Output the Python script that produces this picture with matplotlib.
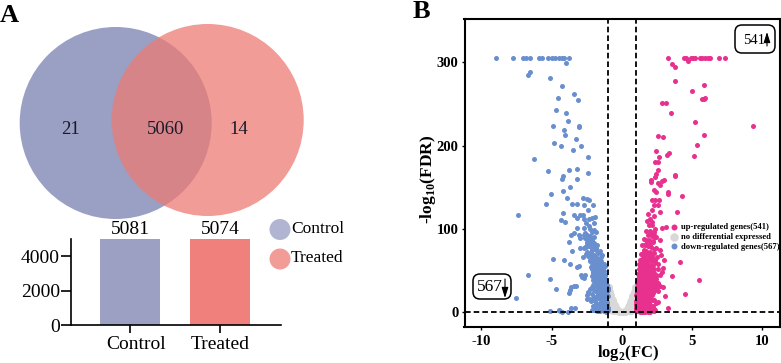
import matplotlib
matplotlib.use("Agg")
import matplotlib.pyplot as plt
from matplotlib.patches import Circle, FancyBboxPatch
from matplotlib.transforms import ScaledTranslation

plt.rcParams['font.family'] = ['Liberation Serif', 'DejaVu Serif']
plt.rcParams['mathtext.fontset'] = 'custom'
plt.rcParams['mathtext.rm'] = 'Liberation Serif:bold'
plt.rcParams['mathtext.bf'] = 'Liberation Serif:bold'

W, H = 781, 363

venn_labels = ["21", "5060", "14"]
groups = ["Control", "Treated"]
group_totals = [5081, 5074]
bar_ticks = [0, 2000, 4000]
volcano_xticks = [-10, -5, 0, 5, 10]
volcano_yticks = [0, 100, 200, 300]
legend_labels = ["up-regulated genes(541)", "no differential expressed", "down-regulated genes(567)"]

down_x = [
    -8.93, -7.76, -7.05, -6.81, -6.53, -5.93, -5.70, -5.29, -4.98, -4.75, -4.51, -4.27, -4.11, -3.73,
    -4.01, -6.69, -6.53, -5.15, -4.27, -3.42, -4.53, -3.13, -4.70, -3.99, -3.84, -4.91, -3.06, -3.06,
    -4.13, -4.03, -3.27, -4.82, -4.34, -2.90, -3.49, -2.44, -6.22, -5.27, -3.77, -3.20, -2.42, -4.20,
    -3.20, -4.27, -4.20, -3.68, -5.01, -5.39, -3.90, -3.54, -3.16, -2.80, -2.49, -2.37, -2.73, -2.42,
    -2.06, -7.38, -4.20, -3.44, -2.97, -2.80, -3.20, -4.30, -4.06, -2.68, -2.37, -2.13, -1.90, -2.56,
    -1.95, -2.73, -3.20, -2.30, -2.00, -1.83, -3.39, -3.63, -3.08, -2.73, -2.49, -2.25, -2.00, -2.97,
    -2.60, -2.40, -2.10, -3.75, -2.25, -2.00, -1.78, -2.49, -2.73, -2.97, -3.56, -2.62, -2.35, -2.10,
    -1.85, -1.62, -2.55, -2.22, -1.95, -1.70, -1.48, -2.38, -2.10, -1.85, -1.58, -2.75, -2.28, -2.02,
    -1.75, -1.52, -1.35, -2.15, -1.92, -1.66, -1.42, -5.10, -4.50, -4.40, -4.27, -3.87, -3.63, -3.32,
    -5.10, -4.72, -6.69, -7.52, -4.91, -4.15, -3.68, -3.20, -3.08, -3.75, -3.70, -3.63, -3.44, -3.27,
    -2.85, -2.73, -2.60, -2.90, -2.49, -2.20, -2.10, -2.00, -1.88, -1.75, -1.62, -1.50, -1.38, -1.25,
    -2.05, -1.92, -1.80, -1.68, -1.55, -1.42, -1.30, -1.18, -2.12, -1.98, -1.85, -1.72, -1.60, -1.47,
    -1.35, -1.22, -1.10, -2.08, -1.95, -1.82, -1.70, -1.57, -1.44, -1.32, -1.20, -1.07, -2.02, -1.88,
    -1.76, -1.64, -1.51, -1.39, -1.26, -1.14, -1.02, -2.25, -1.90, -1.78, -1.66, -1.53, -1.41, -1.28,
    -1.16, -1.04, -2.38, -2.15, -1.83, -1.71, -1.59, -1.46, -1.34, -1.21, -1.09, -2.45, -2.02, -1.76,
    -1.63, -1.50, -1.37, -1.24, -1.12, -2.30, -1.95, -1.69, -1.56, -1.43, -1.30, -1.17, -1.05, -2.18,
    -1.82, -1.60, -1.47, -1.33, -1.20, -1.08, -2.05, -1.72, -1.52, -1.39, -1.26, -1.13, -1.00, -1.90,
    -1.62, -1.45, -1.31, -1.18, -1.06, -2.10, -1.75, -1.55, -1.40, -1.27, -1.15,
    -2.05, -1.70, -1.35, -1.15, -1.95, -1.55, -1.25, -1.02, -2.15, -1.80,
    -1.45, -1.10, -1.98, -1.62, -1.30, -0.98, -1.88, -1.48, -1.12, -1.72,
    -1.36, -1.03, -1.92, -1.58, -1.22, -1.00, -1.80, -1.42, -1.12, -0.97,
    -2.08, -1.72, -1.38, -1.20, -1.95, -1.60, -1.30, -1.88, -1.50, -1.18,
    -2.30, -1.95, -1.60, -1.30, -2.20, -1.85, -1.45, -1.20, -2.05, -1.70,
    -2.45, -2.15, -1.85, -1.55, -2.55, -2.25, -1.95, -2.50, -2.20, -2.35,
    -2.65, -2.10, -2.35, -1.75, -1.50, -1.40, -1.25, -1.10, -2.00, -1.65,
]
down_y = [
    305, 305, 305, 305, 305, 305, 305, 305, 305, 305, 305, 305, 305, 305,
    299.7, 285, 288, 281, 272, 262, 257, 255, 243, 239, 230, 223, 223, 222,
    219, 213, 208, 203, 200, 200, 195, 186, 184, 170, 171, 172, 167, 163,
    160, 160, 145, 150, 142, 130, 136.5, 130, 130, 137, 136, 134, 128.5, 122.5,
    128.5, 117, 119, 117, 117, 117, 112.5, 110.5, 108, 112, 112, 112.5, 114, 107,
    107, 101, 101, 100, 98.5, 96.5, 94.5, 92.5, 92.5, 93, 92.5, 91, 90.5, 88.5,
    88.5, 87, 86.5, 84.5, 82.5, 82.5, 80.5, 82.5, 76.5, 76.5, 73.5, 78, 79, 76,
    77, 72, 70, 72.5, 69, 70.5, 66, 67, 65, 64, 62, 66, 61, 62,
    60, 61, 58, 57, 56, 57, 55, 1.7, 2.5, 1.5, 0, 0.5, 4.5, 4.5,
    40, 27.7, 45, 17.3, 63.7, 62.5, 57.7, 53.7, 55.3, 22.5, 26, 30, 31, 31.7,
    42.5, 40.5, 44.5, 45, 15.7, 54, 52, 53, 54, 55, 53, 52, 50, 49,
    47, 48, 49, 50, 48, 47, 45, 44, 43, 44, 45, 43, 44, 42,
    41, 40, 38, 38, 39, 40, 38, 37, 38, 36, 35, 33, 34, 34,
    35, 33, 34, 32, 31, 30, 29, 28, 32, 30, 29, 30, 28, 29,
    26, 25, 24, 22, 25, 24, 23, 24, 22, 23, 21, 20, 18, 19,
    20, 18, 19, 17, 18, 16, 15, 17, 16, 14, 13, 14, 12, 13,
    11, 10, 11, 9, 8, 9, 7, 8, 6, 7, 7, 5, 4, 6,
    3, 4, 2, 3, 1.5, 2, 1, 1, 2, 1, 0.5,
    33, 35, 37, 30, 26, 28, 31, 27, 30, 24,
    22, 24, 17, 20, 18, 19, 13, 14, 15, 10,
    11, 10, 7, 6, 7, 5, 3, 3, 4, 2,
    48, 46, 50, 44, 42, 43, 41, 39, 40, 38,
    62, 60, 64, 58, 68, 66, 68, 55, 57, 52,
    72, 74, 75, 73, 78, 80, 78, 84, 86, 90,
    95, 96, 103, 63, 59, 46, 35, 20, 3, 1,
]

flat_x = [
    -0.95, -0.90, -0.85, -0.80, -0.75, -0.70, -0.65, -0.60, -0.55, -0.50, -0.45, -0.40, -0.35, -0.30, -0.25,
    -0.20, -0.15, -0.10, -0.05, 0.05, 0.10, 0.15, 0.20, 0.25, 0.30, 0.35, 0.40, 0.45, 0.50, 0.55,
    0.60, 0.65, 0.70, 0.75, 0.80, 0.85, 0.90, 0.95, -0.92, -0.86, -0.78, -0.70, -0.62, -0.54, -0.46,
    -0.38, -0.30, -0.22, 0.22, 0.30, 0.38, 0.46, 0.54, 0.62, 0.70, 0.78, 0.86, 0.92, -0.94, -0.88,
    -0.82, -0.74, -0.66, -0.58, 0.58, 0.66, 0.74, 0.82, 0.88, 0.94, -0.96, -0.91, -0.84, 0.84, 0.91, 0.96,
]
flat_y = [
    30, 27, 24, 21, 19, 16, 14, 12, 10, 8, 6, 5, 3, 2.5, 1.5,
    1, 0.6, 0.3, 0.1, 0.1, 0.3, 0.6, 1, 1.5, 2.5, 3, 5, 6, 8, 10,
    12, 14, 16, 19, 21, 24, 27, 30, 15, 12, 10, 8, 6, 4, 3,
    1.5, 1, 0.5, 0.5, 1, 1.5, 3, 4, 6, 8, 10, 12, 15, 7, 5,
    3, 2, 1.5, 1, 1, 1.5, 2, 3, 5, 7, 22, 20, 16, 16, 20, 22,
]

up_x = [
    3.30, 4.39, 4.53, 4.91, 5.05, 5.20, 5.53, 5.69, 5.93, 6.10, 6.29, 6.88, 7.36, 4.72, 3.54, 3.77,
    3.80, 5.81, 4.98, 5.81, 5.72, 5.93, 2.85, 3.13, 3.51, 5.17, 9.33, 5.81, 2.56, 2.94, 5.31, 2.44,
    3.35, 3.23, 5.13, 2.61, 2.33, 2.54, 2.54, 2.44, 3.80, 3.77, 2.33, 2.06, 2.97, 2.06, 2.54, 2.85,
    2.68, 2.25, 2.44, 3.25, 3.27, 4.27, 2.13, 2.37, 2.61, 2.25, 2.54, 2.13, 2.73, 3.91, 1.85, 2.25,
    2.02, 1.78, 2.13, 1.90, 2.13, 3.16, 2.85, 2.37, 2.00, 2.30, 1.85, 2.15, 2.45, 2.68, 2.73, 2.33,
    5.46, 4.46, 3.60, 4.15, 3.30, 2.95, 3.04, 2.90, 2.73, 2.49, 2.60, 2.37, 1.70, 1.95, 2.20, 1.62,
    1.85, 2.10, 2.40, 1.55, 1.75, 2.00, 2.28, 1.48, 1.68, 1.92, 2.15, 2.50, 1.42, 1.60, 1.80, 2.05,
    2.32, 1.38, 1.55, 1.72, 1.95, 2.18, 1.32, 1.48, 1.65, 1.85, 2.08, 2.55, 1.28, 1.44, 1.60, 1.78,
    2.00, 2.25, 1.24, 1.40, 1.56, 1.72, 1.92, 2.12, 2.42, 1.20, 1.36, 1.52, 1.68, 1.85, 2.05, 2.35,
    1.17, 1.32, 1.48, 1.64, 1.80, 1.98, 2.22, 2.58, 1.14, 1.28, 1.44, 1.60, 1.76, 1.92, 2.14, 2.45,
    1.12, 1.25, 1.40, 1.55, 1.70, 1.86, 2.06, 2.32, 1.10, 1.22, 1.36, 1.50, 1.66, 1.82, 2.00, 2.22,
    1.08, 1.20, 1.33, 1.47, 1.62, 1.78, 1.95, 2.15, 1.06, 1.18, 1.30, 1.44, 1.58, 1.74, 1.90, 2.08,
    1.05, 1.16, 1.28, 1.41, 1.55, 1.70, 1.86, 2.02, 2.30, 1.04, 1.14, 1.26, 1.38, 1.52, 1.66, 1.82,
    2.00, 2.40, 1.03, 1.13, 1.24, 1.36, 1.49, 1.63, 1.78, 1.96, 2.18, 1.02, 1.12, 1.22, 1.34, 1.46,
    1.60, 1.75, 1.92, 2.12, 1.01, 1.10, 1.20, 1.32, 1.44, 1.57, 1.72, 1.88, 2.06, 2.32, 1.00, 1.09,
    1.18, 1.30, 1.42, 1.55, 1.70, 1.85, 2.02, 2.25, 1.08, 1.17, 1.28, 1.40, 1.52, 1.67, 1.83, 2.00,
    1.75, 2.05, 2.30, 1.60, 1.90, 2.20, 1.45, 1.70, 2.00, 2.30,
    1.35, 1.60, 1.90, 2.15, 1.30, 1.55, 1.85, 2.10, 2.35, 1.25,
    1.50, 1.80, 2.05, 2.30, 1.20, 1.45, 1.70, 1.95, 2.20, 1.15,
    1.35, 1.60, 1.90, 2.15, 2.45, 1.12, 1.30, 1.55, 1.80, 2.05,
    1.08, 1.25, 1.50, 1.75, 1.95, 2.25, 1.06, 1.20, 1.45, 1.65,
    1.90, 2.10, 1.05, 1.18, 1.40, 1.60, 1.85, 2.05, 1.03, 1.15,
    1.35, 1.55, 1.75, 1.95, 1.02, 1.12, 1.30, 1.50, 1.70, 1.90,
    2.75, 3.00, 2.60, 2.85, 2.45, 2.70, 2.20, 2.55, 1.05, 1.25,
    1.45, 1.65, 1.85, 2.10, 1.10, 1.30, 1.55, 1.80, 2.00, 2.25,
]
up_y = [
    305, 305, 305, 305, 305, 305, 305, 305, 305, 305, 305, 305, 305, 302, 298.5, 294.5,
    277.7, 273, 266, 256, 255.7, 257, 251.3, 251.3, 239, 227.7, 223.7, 212.5, 211, 209.7, 201, 193,
    191, 189, 187.7, 186.5, 179.7, 179.7, 170.5, 165.7, 164.5, 163, 162.5, 159, 159, 156.5, 154.5, 157,
    153, 146.5, 144.5, 144.5, 141.7, 139, 134.5, 134.5, 134, 128.5, 128.5, 123, 119.7, 120.5, 117.7, 115,
    112, 109, 108, 104, 104, 101.7, 101, 100, 97, 96, 93, 91, 90, 86.5, 74.5, 89.7,
    39, 22, 43.7, 60.5, 5.3, 53, 19.3, 30, 31, 28.5, 25.7, 30.5, 86, 85, 84, 80,
    79, 78, 77, 74, 73, 72, 71, 69, 68, 67, 66, 66, 64, 63, 62, 61,
    62, 59, 58, 58, 57, 57, 55, 54, 54, 53, 52, 52, 51, 50, 49, 49,
    48, 47, 47, 46, 45, 45, 44, 44, 43, 43, 42, 41, 41, 40, 40, 39,
    39, 38, 37, 37, 36, 36, 35, 35, 34, 34, 33, 33, 32, 32, 31, 33,
    30, 30, 29, 29, 28, 28, 28, 27, 27, 26, 26, 25, 25, 24, 24, 23,
    24, 23, 22, 22, 21, 21, 20, 20, 20, 19, 19, 18, 18, 17, 17, 16,
    17, 16, 15, 15, 14, 14, 13, 13, 14, 13, 12, 12, 11, 11, 10, 10,
    9, 11, 10, 9, 9, 8, 8, 7, 7, 6, 7, 8, 7, 6, 6, 5,
    5, 4, 4, 3, 5, 4, 4, 3, 3, 3, 2, 2, 2, 2, 3, 2,
    2, 2, 1.5, 1.5, 1, 1, 1, 1, 1, 1, 0.5, 0.5, 0.5, 0.5, 0.5, 0.5,
    97, 95, 93, 88, 87, 85, 80, 82, 81, 76,
    70, 72, 70, 69, 63, 65, 62, 64, 60, 58,
    56, 57, 55, 52, 52, 50, 51, 49, 47, 46,
    45, 46, 44, 42, 45, 40, 41, 39, 40, 38,
    35, 36, 35, 34, 35, 37, 30, 31, 30, 31,
    29, 28, 25, 26, 24, 26, 24, 22, 20, 19,
    18, 20, 19, 17, 13, 14, 15, 13, 15, 12,
    68, 62, 58, 48, 40, 45, 15, 12, 7, 8,
    9, 7, 9, 6, 3, 4, 3, 5, 2, 4,
]


def px_axes(fig, left, top, right, bottom):
    return fig.add_axes([left / W, 1 - bottom / H, (right - left) / W, (bottom - top) / H])


fig = plt.figure(figsize=(W / 100, H / 100), dpi=100)

# overlay in pixel units for venn, legend, letters
ov = fig.add_axes([0, 0, 1, 1], zorder=5)
ov.set_xlim(0, W)
ov.set_ylim(H, 0)
ov.axis('off')
ov.patch.set_alpha(0)

ov.add_patch(Circle((115.7, 123), 96, fc='#9A9FC4', ec='none'))
ov.add_patch(Circle((207.7, 120), 96, fc='#ED7B75', ec='none', alpha=0.75))
for xp, lab in zip([70, 166, 239], venn_labels):
    ov.text(xp, 129, lab, fontsize=13.5, ha='center', va='center', color='#1a1a2a')

ov.text(0, 21.5, "A", fontsize=19, fontweight='bold', ha='left', va='baseline')
ov.text(413, 17.5, "B", fontsize=19, fontweight='bold', ha='left', va='baseline')

ov.add_patch(Circle((280, 229.5), 10.5, fc='#B2B5D2', ec='none'))
ov.add_patch(Circle((280, 259), 10.5, fc='#F29C98', ec='none'))
ov.text(291.5, 229, groups[0], fontsize=12.5, ha='left', va='center')
ov.text(291, 258.5, groups[1], fontsize=12.5, ha='left', va='center')

# bar chart
ax = px_axes(fig, 71, 239, 281, 325.3)
ax.bar([0, 1], group_totals, width=0.667, color=['#9CA1C4', '#EF807C'])
ax.set_xlim(-0.656, 1.678)
ax.set_ylim(0, 5000)
ax.set_xticks([0, 1], groups, fontsize=14)
ax.set_yticks(bar_ticks, [str(v) for v in bar_ticks], fontsize=14)
ax.tick_params(axis='x', length=6, width=1.2, pad=2)
ax.tick_params(axis='y', length=7, width=1.2, pad=1)
ctrl_label = ax.get_xticklabels()[0]
ctrl_label.set_transform(ctrl_label.get_transform() + ScaledTranslation(0.06, 0, fig.dpi_scale_trans))
for s in ['top', 'right']:
    ax.spines[s].set_visible(False)
for s in ['left', 'bottom']:
    ax.spines[s].set_linewidth(1.2)
for i, v in enumerate(group_totals):
    ax.text(i, 5040, str(v), fontsize=14, ha='center', va='bottom', clip_on=False)

# volcano
bx = px_axes(fig, 464.5, 19, 780, 326.7)
h_up = bx.scatter(up_x, up_y, s=13, color='#E8318F', linewidths=0, zorder=3)
h_flat = bx.scatter(flat_x, flat_y, s=26, color='#D8D8D8', linewidths=0, zorder=2)
h_down = bx.scatter(down_x, down_y, s=13, color='#6A8FCF', linewidths=0, zorder=3)
dash = (0, (3.1, 1.7))
bx.axvline(-0.97, color='k', ls=dash, lw=1.3, zorder=4)
bx.axvline(1.02, color='k', ls=dash, lw=1.3, zorder=4)
bx.axhline(0, color='k', ls=dash, lw=1.3, zorder=4)
bx.set_xlim(-11.2, 11.25)
bx.set_ylim(-17.6, 352)
bx.set_xticks(volcano_xticks, [str(v) for v in volcano_xticks], fontsize=10.5, fontweight='bold')
bx.set_yticks(volcano_yticks, [str(v) for v in volcano_yticks], fontsize=10.5, fontweight='bold')
bx.tick_params(axis='x', length=2.5, width=1, pad=3.5)
bx.tick_params(axis='y', length=2.5, width=1, pad=2)
for s in bx.spines.values():
    s.set_linewidth(1.5)
bx.set_xlabel(r"log$_{2}$(FC)", fontsize=12, fontweight='bold')
bx.xaxis.set_label_coords(0.52, -0.052)
bx.set_ylabel(r"-log$_{10}$(FDR)", fontsize=12.5, fontweight='bold')
bx.yaxis.set_label_coords(-0.084, 0.48)

bx.legend([h_up, h_flat, h_down], legend_labels, loc='upper left', bbox_to_anchor=(0.651, 0.337),
          frameon=False, prop={'weight': 'bold', 'size': 6.2}, labelspacing=0.2,
          handlelength=1, handletextpad=0.25, borderpad=0, borderaxespad=0, markerscale=1.2)

# count boxes
boxes = [((735, 25, 775, 53), "541", 753.7, 40, 10.5), ((473, 274, 511, 299), "567", 490, 286.7, 12.5)]
for (x0, y0, x1, y1), txt, tx, ty, fs in boxes:
    ov.add_patch(FancyBboxPatch((x0 + 5, y0 + 5), x1 - x0 - 10, y1 - y0 - 10, boxstyle="round,pad=5,rounding_size=7",
                                fc='white', ec='k', lw=1.1))
    ov.text(tx, ty, txt, fontsize=fs, ha='center', va='center')
arrow_style = dict(arrowstyle='-|>,head_width=0.22,head_length=0.7', lw=0.8, color='k', mutation_scale=9, shrinkA=0, shrinkB=0)
ov.annotate("", xy=(767, 32), xytext=(767, 46), arrowprops=arrow_style)
ov.annotate("", xy=(505, 298), xytext=(505, 279), arrowprops=arrow_style)

fig.savefig("out.png", dpi=100)
